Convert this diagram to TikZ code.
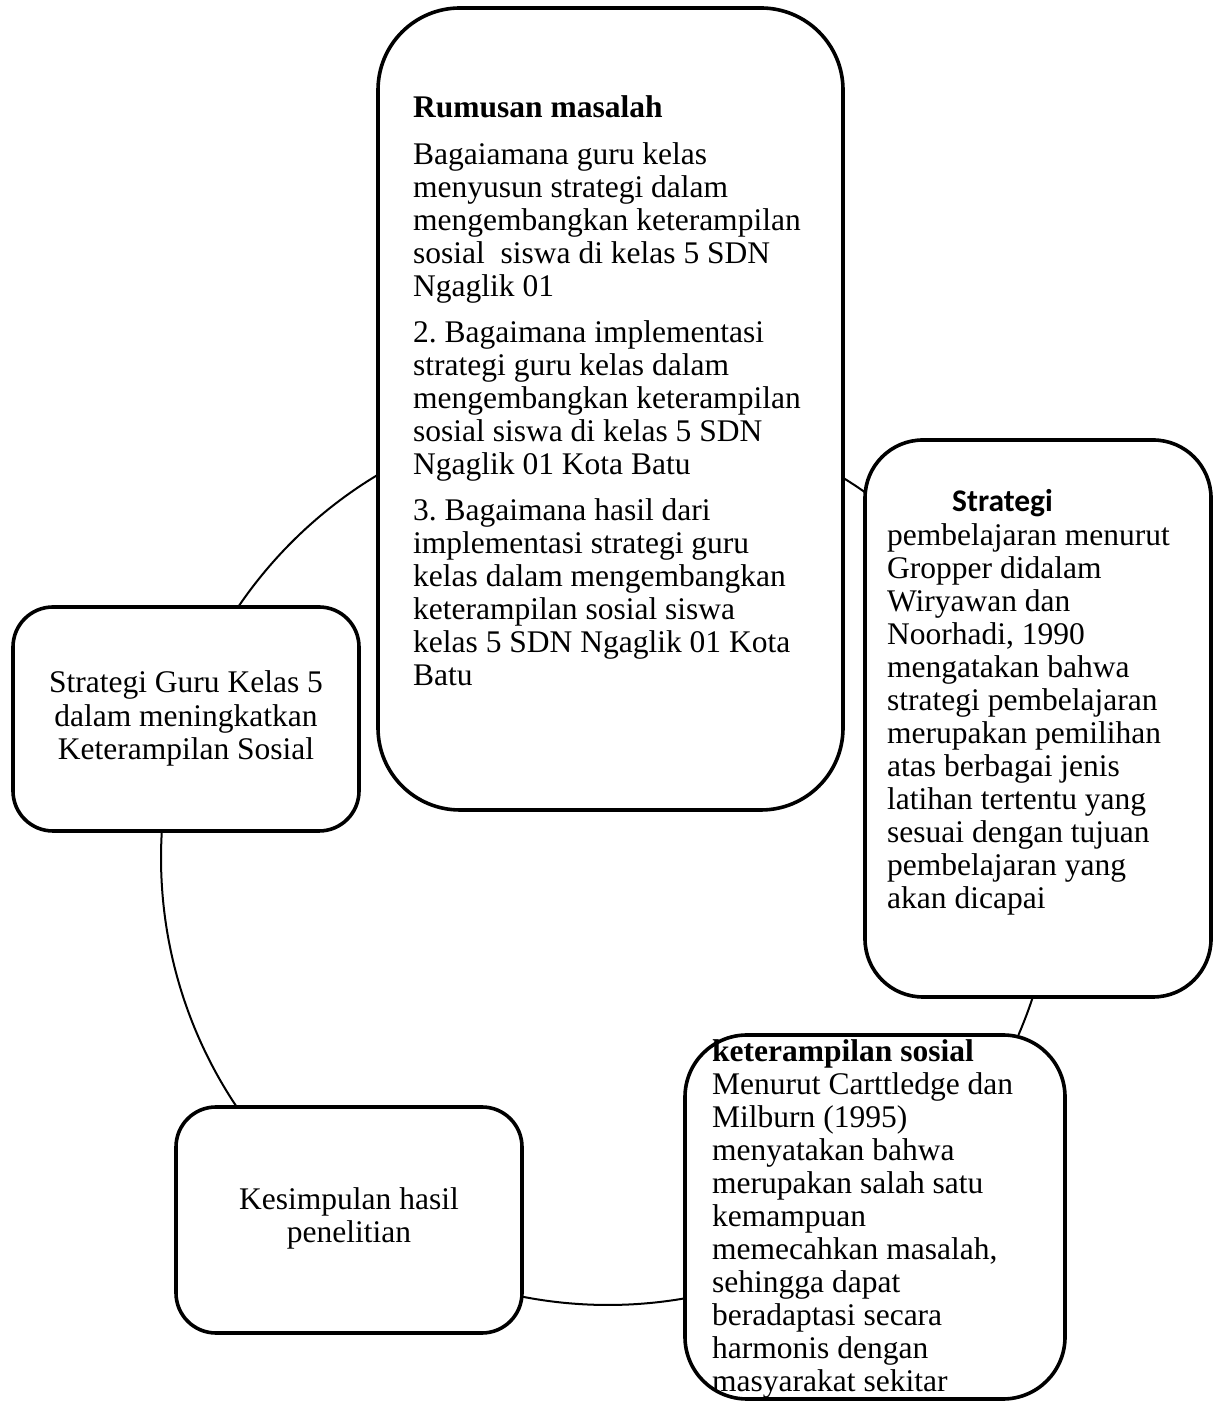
\documentclass[tikz,border=0pt]{standalone}
\usepackage{fontspec}
\setmainfont{Liberation Serif}
\newfontfamily\calib{Carlito}
\usetikzlibrary{calc}
\frenchspacing
\begin{document}
\begin{tikzpicture}[x=1pt,y=1pt,
  box/.style={draw, line width=3.6pt, fill=white, inner sep=0pt, rectangle},
  link/.style={line width=2pt},
  txt/.style={inner sep=0pt, anchor=base west, font=\fontsize{31.5pt}{33pt}\selectfont\frenchspacing},
  ctxt/.style={inner sep=0pt, anchor=base, font=\fontsize{31.5pt}{33pt}\selectfont}]
\useasboundingbox (0,0) rectangle (1219,1402);
% circle centre and connector end points
\coordinate (c) at (608,544);
\coordinate (a1s) at ($(c)+(145.84:447)$);
\coordinate (a2s) at ($(c)+(176.54:447)$);
\coordinate (a3s) at ($(c)+(258.9:447)$);
\coordinate (a4s) at ($(c)+(336.67:447)$);
\coordinate (a5s) at ($(c)+(54.9:447)$);
% connectors (arcs of one circle)
\draw[link] (a1s) arc[start angle=145.84, end angle=121.0, radius=447];
\draw[link] (a2s) arc[start angle=176.54, end angle=213.85, radius=447];
\draw[link] (a3s) arc[start angle=258.9, end angle=279.92, radius=447];
\draw[link] (a4s) arc[start angle=336.67, end angle=341.88, radius=447];
\draw[link] (a5s) arc[start angle=54.9, end angle=58.28, radius=447];
% boxes
\node[box, minimum width=465pt, minimum height=802pt, rounded corners=82pt] (top) at (610.5,993) {};
\node[box, minimum width=346pt, minimum height=557pt, rounded corners=58pt] (right) at (1038,683.5) {};
\node[box, minimum width=380pt, minimum height=364pt, rounded corners=62pt] (br) at (875,185) {};
\node[box, minimum width=346pt, minimum height=224pt, rounded corners=40pt] (left) at (186,683) {};
\node[box, minimum width=346pt, minimum height=226pt, rounded corners=40pt] (kes) at (349,182) {};
% top box text
\node[txt, font=\fontsize{31.5pt}{33pt}\selectfont\bfseries] (rm) at (413,1284) {Rumusan masalah};
\foreach \l [count=\i from 0] in {Bagaiamana guru kelas, menyusun strategi dalam, mengembangkan keterampilan, sosial\ \ siswa di kelas 5 SDN, Ngaglik 01}
  \node[txt] (pa-\i) at (413,1237-33*\i) {\l};
\foreach \l [count=\i from 0] in {2. Bagaimana implementasi, strategi guru kelas dalam, mengembangkan keterampilan, sosial siswa di kelas 5 SDN, Ngaglik 01 Kota Batu}
  \node[txt] (pb-\i) at (413,1059-33*\i) {\l};
\foreach \l [count=\i from 0] in {3. Bagaimana hasil dari, implementasi strategi guru, kelas dalam mengembangkan, keterampilan sosial siswa, kelas 5 SDN Ngaglik 01 Kota, Batu}
  \node[txt] (pc-\i) at (413,881-33*\i) {\l};
% right box text
\node[txt, font=\fontsize{31.5pt}{33pt}\selectfont\calib\bfseries] (st) at (952,890) {Strategi};
\foreach \l [count=\i from 0] in {pembelajaran menurut, Gropper didalam, Wiryawan dan, {Noorhadi, 1990}, mengatakan bahwa, strategi pembelajaran, merupakan pemilihan, atas berbagai jenis, latihan tertentu yang, sesuai dengan tujuan, pembelajaran yang, akan dicapai}
  \node[txt] (r-\i) at (887,856-33*\i) {\l};
% bottom right box text
\node[txt, font=\fontsize{31.5pt}{33pt}\selectfont\bfseries] (ks) at (712,340) {keterampilan sosial};
\foreach \l [count=\i from 0] in {Menurut Carttledge dan, Milburn (1995), menyatakan bahwa, merupakan salah satu, kemampuan, {memecahkan masalah,}, sehingga dapat, beradaptasi secara, harmonis dengan, masyarakat sekitar}
  \node[txt] (b-\i) at (712,307-33*\i) {\l};
% left box text
\node[ctxt] (l-0) at (186,709) {Strategi Guru Kelas 5};
\node[ctxt] (l-1) at (186,675.5) {dalam meningkatkan};
\node[ctxt] (l-2) at (186,642) {Keterampilan Sosial};
% conclusion box text
\node[ctxt] (k-0) at (349,192) {Kesimpulan hasil};
\node[ctxt] (k-1) at (349,159) {penelitian};
\end{tikzpicture}
\end{document}
